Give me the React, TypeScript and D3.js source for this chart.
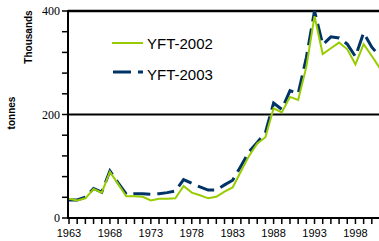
import React from 'react';
import * as d3 from 'd3';

const years: number[] = d3.range(1963, 2002);

// YFT-2002 catch (thousand tonnes)
const yft2002: number[] = [
  37, 34, 38, 56, 49, 89, 66, 42, 42, 41,
  34, 37, 37, 38, 62, 49, 44, 38, 41, 51,
  59, 90, 120, 144, 156, 212, 204, 234, 228, 292,
  390, 317, 328, 339, 326, 297, 336, 313, 289,
];

// YFT-2003 catch (thousand tonnes)
const yft2003: number[] = [
  35, 35, 40, 57, 50, 91, 68, 46, 47, 47,
  46, 47, 49, 52, 74, 67, 60, 54, 54, 64,
  73, 100, 128, 146, 165, 222, 210, 246, 240, 310,
  400, 335, 350, 348, 336, 312, 358, 330, 312,
];

const yTicks: number[] = [0, 40, 80, 120, 160, 200, 240, 280, 320, 360, 400];
const yLabels: number[] = [0, 200, 400];
const xLabels: number[] = [1963, 1968, 1973, 1978, 1983, 1988, 1993, 1998];

const W = 379;
const H = 241;

export default function App() {
  const x = d3.scaleLinear().domain([1963, 2001]).range([69, 380]);
  const y = d3.scaleLinear().domain([0, 400]).range([218, 11]);

  const line = d3.line<number>()
    .x((_, i) => x(years[i]))
    .y(d => y(d));

  const x0 = x(1963) - 1;
  const sans = "'Liberation Sans', Arial, sans-serif";
  const serif = "'Liberation Serif', 'Times New Roman', serif";

  return (
    <svg width={W} height={H} style={{ position: 'absolute', left: 0, top: 0, background: '#fff' }}>
      {/* axis titles */}
      <text transform="translate(32,37) rotate(-90)" textAnchor="middle"
        fontFamily={sans} fontWeight="bold" fontSize={10} fill="#000">Thousands</text>
      <text transform="translate(15,113) rotate(-90)" textAnchor="middle"
        fontFamily={sans} fontWeight="bold" fontSize={10} fill="#000">tonnes</text>

      {/* reference lines */}
      <line x1={x0} x2={W} y1={y(400)} y2={y(400)} stroke="#000" strokeWidth={2.5} />
      <line x1={x0} x2={W} y1={y(200)} y2={y(200)} stroke="#000" strokeWidth={2} />

      {/* y axis */}
      <line x1={x0} x2={x0} y1={y(400) - 1} y2={y(0) + 1} stroke="#000" strokeWidth={2} />
      {yTicks.map(t => (
        <line key={t} x1={x0 - 6} x2={x0} y1={y(t)} y2={y(t)} stroke="#000" strokeWidth={1.5} />
      ))}
      {yLabels.map(t => (
        <text key={t} x={x0 - 8} y={y(t)} dy="0.35em" textAnchor="end"
          fontFamily={serif} fontSize={12} fill="#000">{t}</text>
      ))}

      {/* x axis */}
      <line x1={x0} x2={W} y1={y(0)} y2={y(0)} stroke="#000" strokeWidth={2} />
      {years.map(yr => (
        <line key={yr} x1={x(yr)} x2={x(yr)} y1={y(0)} y2={y(0) + 6} stroke="#000" strokeWidth={1.5} />
      ))}
      {xLabels.map(yr => (
        <text key={yr} x={x(yr)} y={237} textAnchor="middle"
          fontFamily={sans} fontSize={11} fill="#000">{yr}</text>
      ))}

      {/* series */}
      <path d={line(yft2003) || ''} fill="none" stroke="#003366" strokeWidth={3} strokeDasharray="17,7" />
      <path d={line(yft2002) || ''} fill="none" stroke="#99cc00" strokeWidth={2} />

      {/* legend */}
      <line x1={112} x2={143} y1={43} y2={43} stroke="#99cc00" strokeWidth={2} />
      <text x={147} y={49} fontFamily={sans} fontSize={15} fill="#000">YFT-2002</text>
      <line x1={113} x2={143} y1={72} y2={72} stroke="#003366" strokeWidth={3} strokeDasharray="18,7" />
      <text x={147} y={80} fontFamily={sans} fontSize={15} fill="#000">YFT-2003</text>
    </svg>
  );
}
